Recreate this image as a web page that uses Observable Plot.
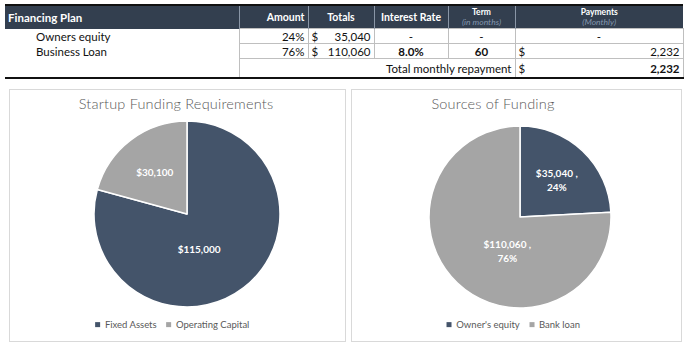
<!DOCTYPE html>
<html>
<head>
<meta charset="utf-8">
<script src="https://cdn.jsdelivr.net/npm/d3@7"></script>
<script src="https://cdn.jsdelivr.net/npm/@observablehq/plot@0.6"></script>
<style>
  html, body { margin: 0; padding: 0; background: #fff; width: 691px; height: 349px; overflow: hidden; }
  body { font-family: Lato, "Open Sans", sans-serif; position: relative; }
  #plan { position: absolute; left: 5px; top: 4px; border-collapse: collapse; table-layout: fixed; font-size: 11.5px; color: #111; }
  #plan td { padding: 0 3px; white-space: nowrap; overflow: hidden; }
  #plan tr.head td { background: #333f4f; color: #fff; font-weight: bold; font-size: 10.5px; height: 22px; border-left: 1px solid #8a96a6; }
  #plan tr.head td:first-child { border-left: none; font-size: 11.5px; }
  #plan tr.head { border-top: 2px solid #111; }
  #plan tr.body td { height: 14px; border: 1px solid #bfbfbf; }
  #plan tr.body td.first { border: none; padding-left: 31px; }
  #plan tr.total td { height: 18px; border: 1px solid #bfbfbf; border-bottom: 2px solid #111; }
  #plan tr.total td.first { border-left: none; border-top: none; border-right: 1px solid #bfbfbf; }
  .r { text-align: right; } .c { text-align: center; } .b { font-weight: bold; }
  .small { font-size: 8.5px; line-height: 10px; }
  .sub { font-size: 8.5px; line-height: 10px; font-style: italic; font-weight: normal; color: #8497b0; }
  .money { display: flex; justify-content: space-between; }
  .panel { position: absolute; border: 1px solid #d9d9d9; box-sizing: border-box; }
  .title { position: absolute; color: #595959; font-size: 14.5px; font-weight: 300; transform: translate(-50%, -50%); white-space: nowrap; letter-spacing: 0.2px; }
  .chart { position: absolute; }
  .legend { position: absolute; transform: translate(-50%, -50%); }
  .legend div { font-family: Lato, sans-serif !important; font-size: 9.5px !important; color: #595959; }
</style>
</head>
<body>
<table id="plan">
  <colgroup>
    <col style="width:234px"><col style="width:69px"><col style="width:66px"><col style="width:74px"><col style="width:67px"><col style="width:168px">
  </colgroup>
  <tbody id="planBody"></tbody>
</table>

<div class="panel" style="left:9px; top:89px; width:337px; height:253px;"></div>
<div class="panel" style="left:351px; top:89px; width:331px; height:253px;"></div>
<div class="title" id="t1" style="left:176px; top:103px;"></div>
<div class="title" id="t2" style="left:493px; top:103px;"></div>
<div class="chart" id="pie1" style="left:89px; top:116px;"></div>
<div class="chart" id="pie2" style="left:424px; top:121px;"></div>
<div class="legend" id="leg1" style="left:177px; top:327px;"></div>
<div class="legend" id="leg2" style="left:518px; top:327px;"></div>

<script>
// ---------- Data ----------
const planColumns = ["Financing Plan", "Amount", "Totals", "Interest Rate", "Term", "Payments"];
const planSubHeads = ["(in months)", "(Monthly)"];
const planRows = ["Owners equity", "Business Loan"];
const planShares = ["24%", "76%"];
const planTotals = ["35,040", "110,060"];
const planRates = ["-", "8.0%"];
const planTerms = ["-", "60"];
const planPayments = ["-", "2,232"];
const totalLabel = "Total monthly repayment";
const totalPayment = "2,232";

const fundingTitle = "Startup Funding Requirements";
const fundingCategories = ["Fixed Assets", "Operating Capital"];
const fundingValues = [115000, 30100];
const fundingLabels = ["$115,000", "$30,100"];

const sourceTitle = "Sources of Funding";
const sourceCategories = ["Owner's equity", "Bank loan"];
const sourceValues = [35040, 110060];
const sourceLabels = ["$35,040 ,\n24%", "$110,060 ,\n76%"];

const sliceColors = ["#44546a", "#a5a5a5"];

// ---------- Table ----------
const tb = document.getElementById("planBody");
let html = `<tr class="head">
  <td>${planColumns[0]}</td>
  <td class="r">${planColumns[1]}</td>
  <td class="c">${planColumns[2]}</td>
  <td class="c">${planColumns[3]}</td>
  <td class="c"><div class="small">${planColumns[4]}</div><div class="sub">${planSubHeads[0]}</div></td>
  <td class="c"><div class="small">${planColumns[5]}</div><div class="sub">${planSubHeads[1]}</div></td>
</tr>`;
planRows.forEach((name, i) => {
  const pay = planPayments[i] === "-" ? `<div class="c">-</div>` : `<div class="money"><span>$</span><span>${planPayments[i]}</span></div>`;
  html += `<tr class="body">
    <td class="first">${name}</td>
    <td class="r">${planShares[i]}</td>
    <td><div class="money"><span>$</span><span>${planTotals[i]}</span></div></td>
    <td class="c ${planRates[i] === "-" ? "" : "b"}">${planRates[i]}</td>
    <td class="c ${planTerms[i] === "-" ? "" : "b"}">${planTerms[i]}</td>
    <td>${pay}</td>
  </tr>`;
});
html += `<tr class="total">
  <td class="first" style="border-bottom:2px solid #111"></td>
  <td colspan="4" class="r">${totalLabel}</td>
  <td><div class="money"><span>$</span><span class="b">${totalPayment}</span></div></td>
</tr>`;
tb.innerHTML = html;

// ---------- Pies ----------
function pieChart(categories, values, labels, size) {
  const data = categories.map((c, i) => ({category: c, value: values[i], label: labels[i]}));
  const total = d3.sum(values);
  const arcs = d3.pie().value(d => d.value).sort(null)(data);
  arcs.forEach(a => {
    const mid = (a.startAngle + a.endAngle) / 2;
    const big = a.value / total > 0.5;
    const ang = big ? (mid + Math.PI) / 2 : mid;
    const r = big ? 0.39 : 0.58;
    a.lx = r * Math.sin(ang);
    a.ly = r * Math.cos(ang);
    a.category = a.data.category;
    a.label = a.data.label;
  });
  const colorOf = c => sliceColors[categories.indexOf(c)];
  const wedges = (index, scales) => {
    const r = scales.x(1) - scales.x(0);
    const g = d3.create("svg:g")
      .attr("transform", `translate(${scales.x(0)},${scales.y(0)})`);
    const arc = d3.arc().innerRadius(0).outerRadius(r);
    g.selectAll("path").data(arcs).join("path")
      .attr("d", arc)
      .attr("fill", d => (scales.color ? scales.color(d.data.category) : colorOf(d.data.category)))
      .attr("stroke", "#fff")
      .attr("stroke-width", 1.5)
      .attr("stroke-linejoin", "round");
    return g.node();
  };
  return Plot.plot({
    width: size, height: size, margin: 5,
    x: {domain: [-1, 1], axis: null},
    y: {domain: [-1, 1], axis: null},
    color: {domain: categories, range: sliceColors},
    style: {background: "transparent", overflow: "visible"},
    marks: [
      wedges,
      Plot.text(arcs, {x: "lx", y: "ly", text: "label", fill: "#fff", fontWeight: "bold",
        fontSize: 10, fontFamily: "Lato, sans-serif", lineHeight: 1.4})
    ]
  });
}

function legend(categories) {
  return Plot.legend({
    color: {domain: categories, range: sliceColors},
    swatchSize: 5,
    style: {fontFamily: "Lato, sans-serif", fontSize: "9.5px", color: "#595959"}
  });
}

document.getElementById("t1").textContent = fundingTitle;
document.getElementById("t2").textContent = sourceTitle;
document.getElementById("pie1").append(pieChart(fundingCategories, fundingValues, fundingLabels, 196));
document.getElementById("pie2").append(pieChart(sourceCategories, sourceValues, sourceLabels, 192));
document.getElementById("leg1").append(legend(fundingCategories));
document.getElementById("leg2").append(legend(sourceCategories));
</script>
</body>
</html>
